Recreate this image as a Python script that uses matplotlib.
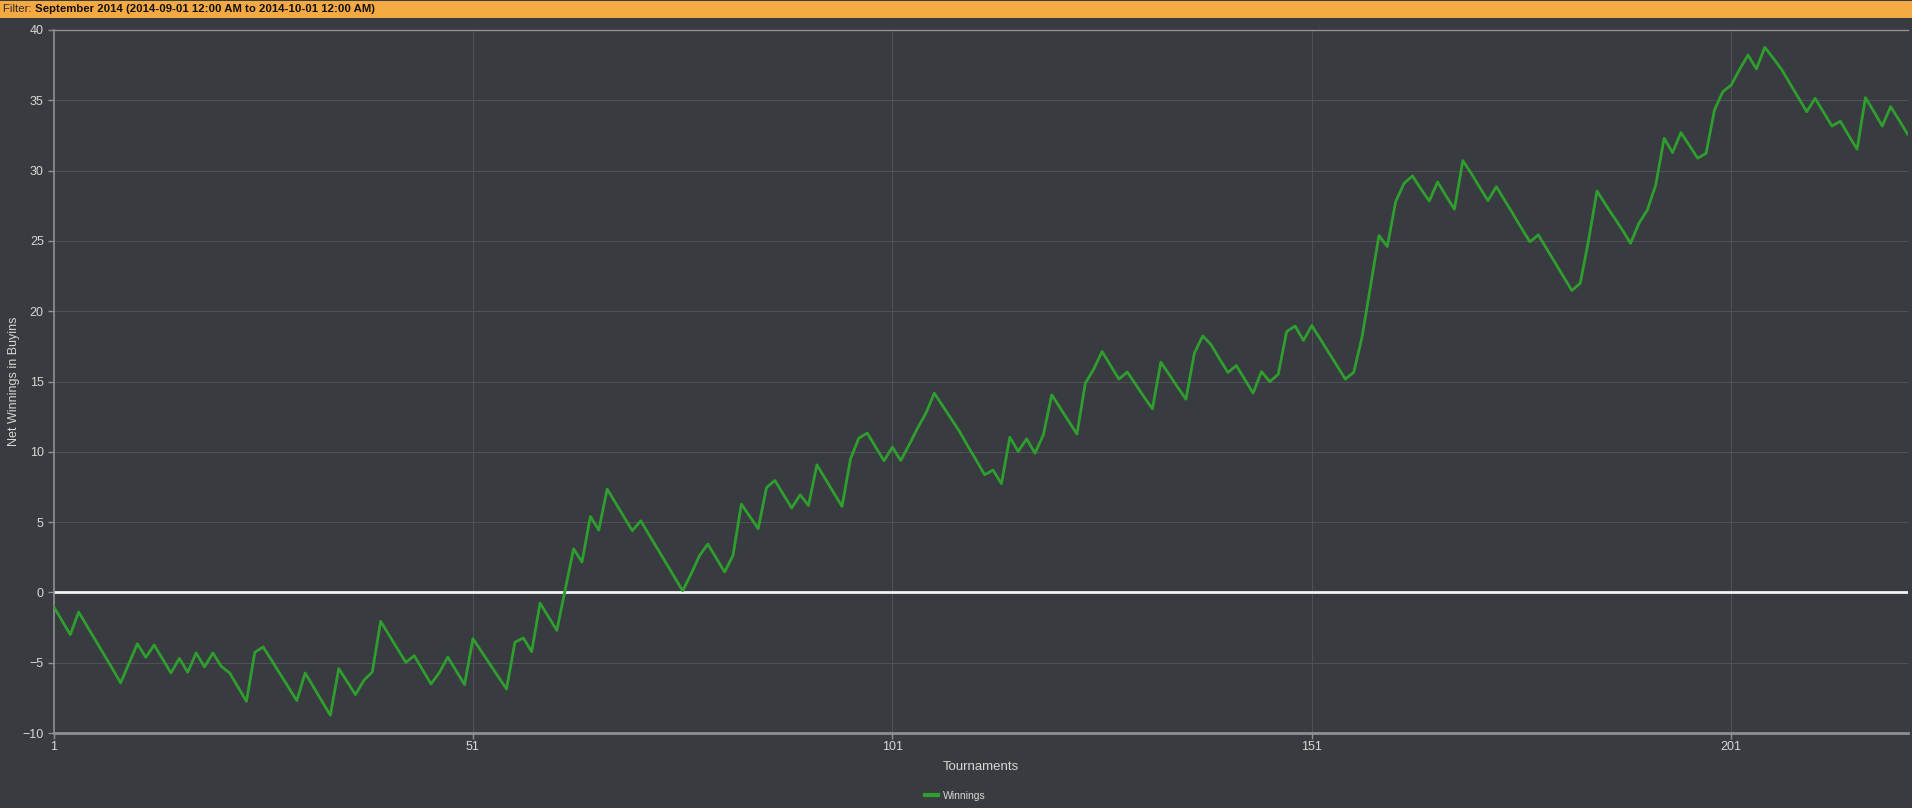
import numpy as np
import matplotlib
matplotlib.use("Agg")
import matplotlib.pyplot as plt
from matplotlib.lines import Line2D

# net winnings per tournament (buyins)
winnings = [
    -0.99, -2.0, -3.0, -1.4, -2.4, -3.4, -4.4, -5.4, -6.44, -5.05,
    -3.65, -4.62, -3.74, -4.73, -5.73, -4.69, -5.68, -4.31, -5.30, -4.31,
    -5.26, -5.73, -6.74, -7.75, -4.26, -3.88, -4.83, -5.79, -6.74, -7.70,
    -5.73, -6.73, -7.74, -8.74, -5.42, -6.35, -7.27, -6.25, -5.66, -2.06,
    -3.03, -4.01, -4.98, -4.50, -5.5, -6.51, -5.7, -4.60, -5.58, -6.56,
    -3.29, -4.19, -5.08, -5.98, -6.87, -3.55, -3.24, -4.22, -0.76, -1.73,
    -2.70, 0.2, 3.10, 2.16, 5.40, 4.43, 7.35, 6.36, 5.37, 4.39,
    5.09, 4.10, 3.10, 2.11, 1.11, 0.12, 1.3, 2.61, 3.44, 2.44,
    1.45, 2.63, 6.28, 5.4, 4.53, 7.46, 7.96, 6.98, 6.00, 6.94,
    6.18, 9.07, 8.08, 7.10, 6.11, 9.48, 10.97, 11.33, 10.35, 9.36,
    10.33, 9.38, 10.5, 11.68, 12.75, 14.17, 13.27, 12.36, 11.45, 10.4,
    9.4, 8.37, 8.70, 7.73, 11.04, 10.02, 10.92, 9.90, 11.21, 14.05,
    13.12, 12.19, 11.26, 14.88, 15.88, 17.13, 16.15, 15.17, 15.67, 14.8,
    13.9, 13.06, 16.37, 15.5, 14.6, 13.74, 17.01, 18.25, 17.61, 16.6,
    15.64, 16.14, 15.15, 14.17, 15.71, 14.98, 15.52, 18.55, 18.95, 17.92,
    18.98, 18.03, 17.07, 16.12, 15.17, 15.66, 18.20, 21.8, 25.38, 24.60,
    27.80, 29.1, 29.62, 28.7, 27.84, 29.19, 28.2, 27.25, 30.71, 29.81,
    28.82, 27.87, 28.86, 27.88, 26.9, 25.9, 24.93, 25.43, 24.44, 23.45,
    22.46, 21.47, 21.99, 25.07, 28.55, 27.6, 26.7, 25.8, 24.83, 26.26,
    27.2, 28.98, 32.30, 31.28, 32.70, 31.8, 30.88, 31.23, 34.31, 35.62,
    36.09, 37.2, 38.22, 37.23, 38.77, 38.0, 37.2, 36.2, 35.2, 34.19,
    35.14, 34.15, 33.17, 33.51, 32.5, 31.52, 35.19, 34.2, 33.17, 34.55,
    33.6, 32.61,
]
tournaments = np.arange(1, len(winnings) + 1)

x_ticks = [1, 51, 101, 151, 201]
y_ticks = [-10, -5, 0, 5, 10, 15, 20, 25, 30, 35, 40]

filter_label = "Filter: "
filter_text = "September 2014 (2014-09-01 12:00 AM to 2014-10-01 12:00 AM)"

#########################################################################
#  Style
#########################################################################
bg = "#383b3f"
grid_c = "#4f5256"
text_c = "#d8d8d8"
line_c = "#2f9e2f"

plt.rcParams['font.family'] = ['Liberation Sans', 'DejaVu Sans']

fig = plt.figure(figsize=(19.12, 8.08), dpi=100)
fig.patch.set_facecolor(bg)

# orange filter bar on top
fig.patches.append(plt.Rectangle((0, 1 - 18 / 808), 1, 17 / 808, transform=fig.transFigure,
                                 facecolor="#f4a943", edgecolor="none", zorder=0))
t1 = fig.text(3 / 1912, 1 - 9.5 / 808, filter_label, fontsize=8.2, color="#2a2a2a",
              va="center", ha="left")
fig.canvas.draw()
bb = t1.get_window_extent()
fig.text(bb.x1 / 1912, 1 - 9.5 / 808, filter_text, fontsize=8.2, color="#111111",
         fontweight="bold", va="center", ha="left")

#########################################################################
#  Plot
#########################################################################
ax = fig.add_axes([53.5 / 1912, 1 - 733 / 808, (1908 - 53.5) / 1912, (733 - 30) / 808])
ax.set_facecolor(bg)

ax.plot(tournaments, winnings, color=line_c, linewidth=2.0, zorder=3)
ax.axhline(0, color="#f2f2f2", linewidth=2.0, zorder=2)

ax.set_xlim(1, 222.07)
ax.set_ylim(-10, 40)
ax.set_xticks(x_ticks)
ax.set_yticks(y_ticks)
ax.grid(True, color=grid_c, linewidth=0.7)
ax.set_axisbelow(True)

for s in ['left', 'bottom', 'top', 'right']:
    ax.spines[s].set_color("#8c8f93")
ax.spines['bottom'].set_linewidth(2.0)
ax.spines['left'].set_linewidth(1.2)
ax.spines['top'].set_linewidth(1.0)
ax.spines['right'].set_visible(False)

ax.tick_params(colors=text_c, labelsize=9, length=4, width=1, color="#8c8f93")
ax.tick_params(axis='x', pad=2)
ax.tick_params(axis='y', pad=3)

fig.text(981 / 1912, 1 - 767 / 808, "Tournaments", color=text_c, fontsize=9.5,
         ha="center", va="center")
fig.text(14 / 1912, 1 - 381 / 808, "Net Winnings in Buyins", color=text_c, fontsize=9,
         ha="center", va="center", rotation=90)

handle = Line2D([], [], color=line_c, linewidth=3)
leg = fig.legend([handle], ["Winnings"], loc="center", bbox_to_anchor=(955 / 1912, 1 - 796 / 808),
                 frameon=False, fontsize=7.5, labelcolor=text_c, handlelength=1.3,
                 handletextpad=0.4)

plt.savefig("out.png", dpi=100, facecolor=bg)
